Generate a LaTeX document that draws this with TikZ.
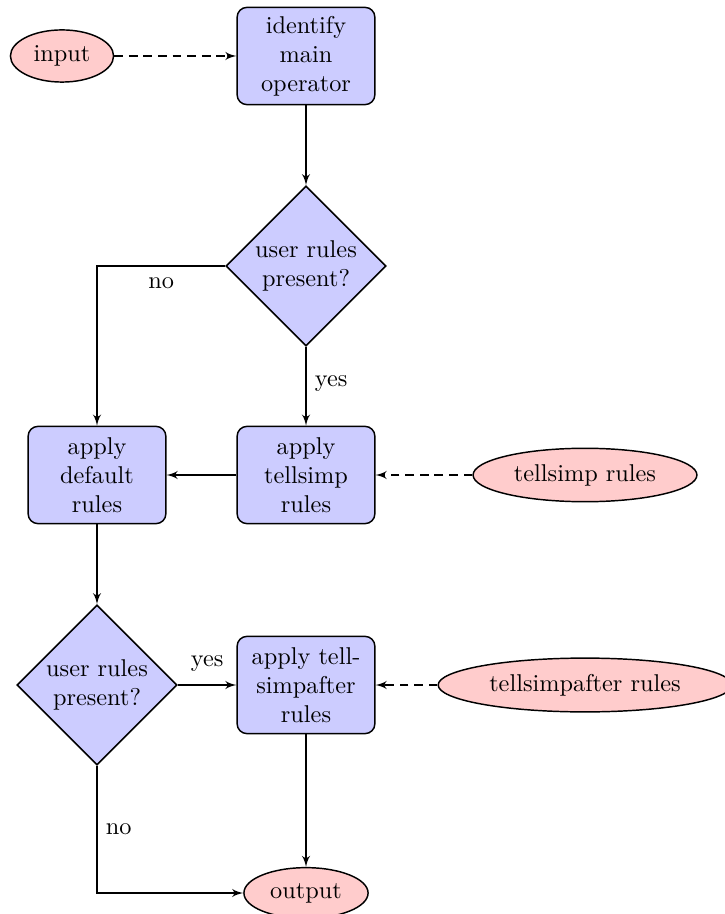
\documentclass[tikz,border=0pt]{standalone}
\usetikzlibrary{shapes.geometric,arrows}
\begin{document}
\begin{tikzpicture}[x=0.4115pt,y=-0.4115pt,
  decision/.style={diamond, draw, semithick, fill=blue!20, text width=4.5em, align=center, inner sep=0pt},
  block/.style={rectangle, draw, semithick, fill=blue!20, text width=5em, align=center, rounded corners, minimum height=4em},
  cloud/.style={ellipse, draw, semithick, fill=red!20, minimum height=2em},
  line/.style={draw, semithick, -latex'},
  dline/.style={draw, semithick, dash pattern=on 3.6pt off 2.4pt, -latex'}]
\useasboundingbox (0,0) rectangle (724,914);
% nodes
\node[block] (init) at (306,56) {identify main operator};
\node[cloud] (input) at (62,56) {input};
\node[decision] (dec1) at (306,266) {user rules present?};
\node[block] (tellsimp) at (306,475) {apply tellsimp rules};
\node[block] (default) at (97,475) {apply default rules};
\node[cloud] (tsrules) at (585,475) {tellsimp rules};
\node[decision] (dec2) at (97,685) {user rules present?};
\node[block] (after) at (306,685) {apply tell\-simpafter rules};
\node[cloud] (tsarules) at (585,685) {tellsimpafter rules};
\node[cloud] (output) at (306,893) {output};
% connectors
\path[dline] (input) -- (init);
\path[line] (init) -- (dec1);
\path[line] (dec1) -- node[pos=0.47, right=0pt] {yes} (tellsimp);
\path[line] (dec1) -| node[pos=0.25, below=1pt] {no} (default);
\path[line] (tellsimp) -- (default);
\path[dline] (tsrules) -- (tellsimp);
\path[line] (default) -- (dec2);
\path[line] (dec2) -- node[above=2pt] {yes} (after);
\path[dline] (tsarules) -- (after);
\path[line] (after) -- (output);
\path[line] (dec2) |- node[pos=0.25, right=0pt] {no} (output);
\end{tikzpicture}
\end{document}
